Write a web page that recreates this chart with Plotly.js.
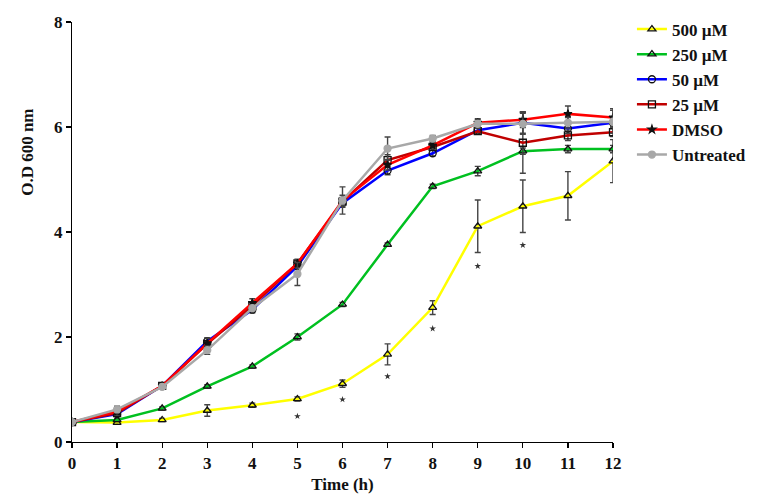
<!DOCTYPE html>
<html>
<head>
<meta charset="utf-8">
<script src="https://cdn.plot.ly/plotly-3.0.1.min.js"></script>
<style>html,body{margin:0;padding:0;background:#fff;}#chart{width:765px;height:499px;}</style>
</head>
<body>
<div id="chart"></div>
<script>
var hours = [0,1,2,3,4,5,6,7,8,9,10,11,12];
var seriesNames = ["500 \u00b5M","250 \u00b5M","50 \u00b5M","25 \u00b5M","DMSO","Untreated"];
var v500 = [0.38,0.37,0.42,0.60,0.70,0.82,1.11,1.67,2.56,4.11,4.49,4.69,5.35];
var e500 = [0.02,0.03,0.03,0.11,0.04,0.04,0.07,0.20,0.13,0.50,0.50,0.46,0.41];
var v250 = [0.38,0.42,0.64,1.06,1.44,2.00,2.62,3.76,4.87,5.16,5.54,5.58,5.58];
var e250 = [0.02,0.03,0.03,0.03,0.03,0.06,0.04,0.03,0.04,0.09,0.06,0.07,0.07];
var v50 = [0.38,0.53,1.07,1.92,2.52,3.35,4.55,5.17,5.50,5.94,6.08,5.97,6.08];
var e50 = [0.02,0.04,0.04,0.06,0.06,0.06,0.08,0.08,0.05,0.06,0.20,0.10,0.10];
var v25 = [0.38,0.55,1.07,1.87,2.60,3.40,4.58,5.37,5.62,5.92,5.70,5.84,5.90];
var e25 = [0.02,0.04,0.04,0.05,0.05,0.05,0.08,0.10,0.06,0.06,0.58,0.10,0.08];
var vDMSO = [0.38,0.58,1.07,1.88,2.65,3.40,4.60,5.28,5.65,6.08,6.14,6.25,6.18];
var eDMSO = [0.02,0.05,0.04,0.10,0.08,0.08,0.10,0.10,0.06,0.08,0.15,0.15,0.17];
var vUnt = [0.38,0.62,1.05,1.75,2.55,3.20,4.60,5.59,5.78,6.06,6.06,6.08,6.10];
var eUnt = [0.02,0.06,0.04,0.08,0.06,0.22,0.26,0.22,0.06,0.08,0.20,0.10,0.22];
var starHours = [5,6,7,8,9,10];
var starY = [0.49,0.81,1.25,2.16,3.35,3.75];
var xTicks = [0,1,2,3,4,5,6,7,8,9,10,11,12];
var yTicks = [0,2,4,6,8];

var colors = ["#ffff00","#00c020","#0000ff","#c00000","#ff0000","#a8a8a8"];
var symbols = ["triangle-up-open","triangle-up-open","circle-open","square-open","star","circle"];
var mColors = ["#111","#111","#111","#111","#111","#a8a8a8"];
var mSizes = [7,7,7,7,6,7];
var vals = [v500,v250,v50,v25,vDMSO,vUnt];
var errs = [e500,e250,e50,e25,eDMSO,eUnt];

var traces = [];
for (var i=0;i<6;i++){
  traces.push({
    x: hours, y: vals[i], name: seriesNames[i], type: 'scatter', mode: 'lines+markers',
    line: {color: colors[i], width: 2.5},
    marker: {symbol: symbols[i], size: mSizes[i], color: mColors[i], line: {color: mColors[i], width: 1.3}},
    error_y: {type: 'data', array: errs[i], visible: true, color: '#444', thickness: 1.4, width: 3}
  });
}
traces.push({
  x: starHours, y: starY, type: 'scatter', mode: 'markers', showlegend: false,
  marker: {symbol: 'star', size: 5, color: '#333'}
});

var fontFam = '"Liberation Serif", "Times New Roman", serif';
var layout = {
  width: 765, height: 499,
  margin: {l: 72, r: 152, t: 22, b: 57},
  paper_bgcolor: '#fff', plot_bgcolor: '#fff',
  showlegend: true,
  legend: {x: 1.035, xanchor: 'left', y: 1.025, yanchor: 'top', font: {family: fontFam, size: 17, color: '#111', weight: 'bold'}, itemwidth: 30, tracegroupgap: 0, bgcolor: 'rgba(0,0,0,0)'},
  xaxis: {
    range: [0, 12], tickvals: xTicks, ticktext: xTicks.map(String), ticks: 'outside', ticklen: 5, tickwidth: 1.2, tickcolor: '#000',
    showline: true, linecolor: '#000', linewidth: 1.2, showgrid: false, zeroline: false,
    tickfont: {family: fontFam, size: 17, color: '#111', weight: 'bold'},
    title: {text: 'Time (h)', font: {family: fontFam, size: 17, color: '#111', weight: 'bold'}, standoff: 6}
  },
  yaxis: {
    range: [0, 8], tickvals: yTicks, ticktext: yTicks.map(String), ticks: 'outside', ticklen: 5, tickwidth: 1.2, tickcolor: '#000',
    showline: true, linecolor: '#000', linewidth: 1.2, showgrid: false, zeroline: false,
    tickfont: {family: fontFam, size: 17, color: '#111', weight: 'bold'}
  },
  annotations: [{
    text: 'O.D 600 nm', xref: 'paper', yref: 'paper', x: -0.082, y: 0.69, textangle: -90, showarrow: false,
    xanchor: 'center', yanchor: 'middle', font: {family: fontFam, size: 17, color: '#111', weight: 'bold'}
  }]
};
Plotly.newPlot('chart', traces, layout, {displayModeBar: false, staticPlot: true});
</script>
</body>
</html>
